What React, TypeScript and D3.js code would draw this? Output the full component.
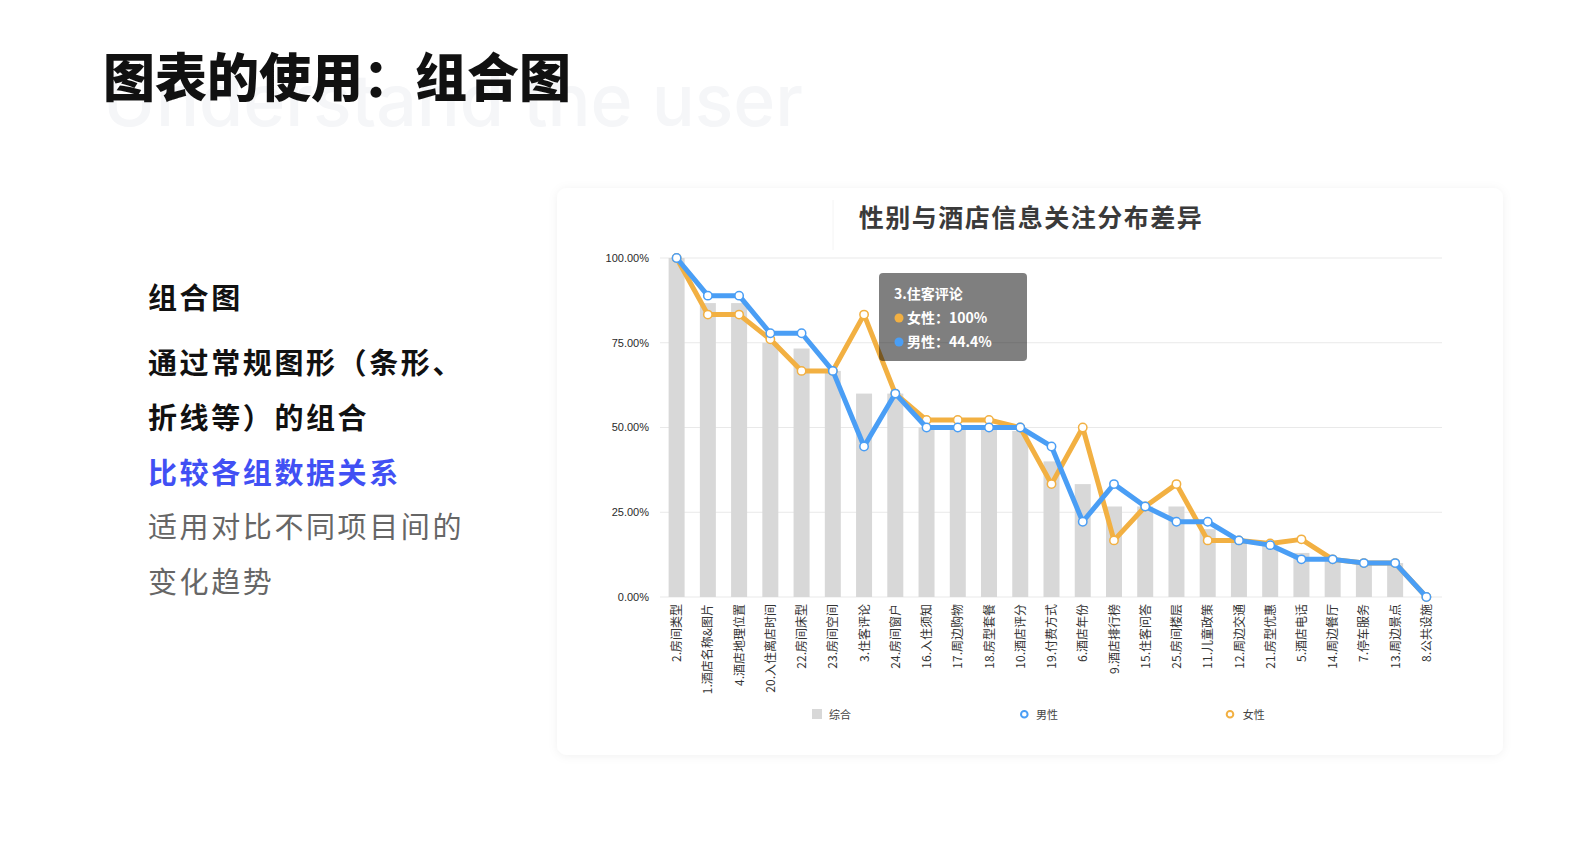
import React, { useEffect } from "react";
import * as d3 from "d3";

const categories = [
  "2.房间类型", "1.酒店名称&图片", "4.酒店地理位置", "20.入住离店时间", "22.房间床型",
  "23.房间空间", "3.住客评论", "24.房间窗户", "16.入住须知", "17.周边购物",
  "18.房型套餐", "10.酒店评分", "19.付费方式", "6.酒店年份", "9.酒店排行榜",
  "15.住客问答", "25.房间楼层", "11.儿童政策", "12.周边交通", "21.房型优惠",
  "5.酒店电话", "14.周边餐厅", "7.停车服务", "13.周边景点", "8.公共设施",
];
const totalValues = [100, 86.7, 86.7, 75, 73.3, 66.7, 60, 60, 50, 50, 50, 49, 40, 33.3, 26.7, 26.7, 26.7, 20, 16.3, 15.3, 13, 11, 10, 10, 0];
const maleValues = [100, 88.9, 88.9, 77.8, 77.8, 66.7, 44.4, 60, 50, 50, 50, 50, 44.4, 22.2, 33.3, 26.7, 22.2, 22.2, 16.7, 15.3, 11.1, 11.1, 10, 10, 0];
const femaleValues = [100, 83.3, 83.3, 76, 66.7, 66.7, 83.3, 60, 52.2, 52.2, 52.2, 50, 33.3, 50, 16.7, 26.7, 33.3, 16.7, 16.7, 15.8, 17, 11.1, 10, 10, 0];
const yTicks = [0, 25, 50, 75, 100];
const legendItems = ["综合", "男性", "女性"];

const pageTitle = "图表的使用：组合图";
const ghostTitle = "Understand the user";
const chartTitle = "性别与酒店信息关注分布差异";
const sideLines = [
  { text: "组合图", color: "#111", weight: 700 },
  { text: "通过常规图形（条形、", color: "#111", weight: 700 },
  { text: "折线等）的组合", color: "#111", weight: 700 },
  { text: "比较各组数据关系", color: "#4150f4", weight: 700 },
  { text: "适用对比不同项目间的", color: "#666", weight: 400 },
  { text: "变化趋势", color: "#666", weight: 400 },
];
const tooltipTitle = "3.住客评论";
const tooltipRows = [
  { label: "女性：100%", color: "#f2b042" },
  { label: "男性：44.4%", color: "#4a9ef5" },
];

const BLUE = "#4a9ef5";
const ORANGE = "#f2b042";
const BAR = "#d8d8d8";
const FONT = '"Noto Sans CJK SC", "Noto Sans", sans-serif';

export default function App() {
  useEffect(() => {
    document.body.style.margin = "0";
  }, []);

  const x = d3.scaleBand<string>().domain(categories).range([661, 1442]).padding(0);
  const y = d3.scaleLinear().domain([0, 100]).range([597, 258]);
  const cx = (c: string) => (x(c) as number) + x.bandwidth() / 2;
  const barW = 16;

  const line = d3
    .line<number>()
    .x((_, i) => cx(categories[i]))
    .y((d) => y(d));

  const sideBaselines = [308.5, 373.5, 429, 483.5, 537.5, 592.5];

  return (
    <svg
      width={1586}
      height={866}
      style={{ position: "absolute", left: 0, top: 0, background: "#fff" }}
      fontFamily={FONT}
    >
      <defs>
        <filter id="cardShadow" x="-5%" y="-5%" width="110%" height="110%">
          <feDropShadow dx="0" dy="1" stdDeviation="5" floodColor="#000" floodOpacity="0.06" />
        </filter>
      </defs>

      {/* ghost text */}
      <text
        x={103}
        y={126}
        fontFamily='Inter, "Open Sans", sans-serif'
        fontSize={72}
        fontWeight={500}
        fill="#f5f6f8"
        textLength={700}
        lengthAdjust="spacingAndGlyphs"
      >
        {ghostTitle}
      </text>
      <text x={103} y={97} fontSize={52} fontWeight={900} fill="#111">
        {pageTitle}
      </text>

      {/* side text */}
      {sideLines.map((l, i) => (
        <text
          key={i}
          x={148}
          y={sideBaselines[i]}
          fontSize={29}
          fontWeight={l.weight}
          fill={l.color}
          letterSpacing={2.6}
        >
          {l.text}
        </text>
      ))}

      {/* card */}
      <rect x={557} y={188} width={946} height={567} rx={10} fill="#fff" filter="url(#cardShadow)" />
      <line x1={833} x2={833} y1={200} y2={250} stroke="#f4f4f4" />

      <text
        x={1031}
        y={227}
        textAnchor="middle"
        fontSize={25}
        fontWeight={700}
        fill="#3a3a3a"
        letterSpacing={1.5}
      >
        {chartTitle}
      </text>

      {/* grid + y axis */}
      {yTicks.map((t) => (
        <g key={t}>
          <line x1={660} x2={1442} y1={y(t)} y2={y(t)} stroke="#e9e9e9" strokeWidth={1} />
          <text
            x={649}
            y={y(t)}
            dy="0.35em"
            textAnchor="end"
            fontSize={11}
            fill="#2a2a2a"
            fontFamily='"Liberation Sans", Arial, sans-serif'
          >
            {t.toFixed(2) + "%"}
          </text>
        </g>
      ))}

      {/* bars */}
      {totalValues.map((v, i) => (
        <rect
          key={i}
          x={cx(categories[i]) - barW / 2}
          y={y(v)}
          width={barW}
          height={y(0) - y(v)}
          fill={BAR}
        />
      ))}

      {/* x labels */}
      {categories.map((c) => (
        <text
          key={c}
          transform={`translate(${cx(c)},604) rotate(-90)`}
          dy="0.38em"
          textAnchor="end"
          fontSize={12}
          fill="#333"
        >
          {c}
        </text>
      ))}

      {/* lines */}
      <path d={line(femaleValues) || ""} fill="none" stroke={ORANGE} strokeWidth={5} strokeLinejoin="round" />
      {femaleValues.map((v, i) => (
        <circle key={"f" + i} cx={cx(categories[i])} cy={y(v)} r={4.2} fill="#fff" stroke={ORANGE} strokeWidth={1.5} />
      ))}
      <path d={line(maleValues) || ""} fill="none" stroke={BLUE} strokeWidth={5} strokeLinejoin="round" />
      {maleValues.map((v, i) => (
        <circle key={"m" + i} cx={cx(categories[i])} cy={y(v)} r={4.2} fill="#fff" stroke={BLUE} strokeWidth={1.5} />
      ))}

      {/* tooltip */}
      <rect x={879} y={273} width={148} height={88} rx={4} fill="rgba(0,0,0,0.5)" />
      <text x={894} y={299} fontSize={14} fontWeight={600} fill="#fff">
        {tooltipTitle}
      </text>
      {tooltipRows.map((r, i) => (
        <g key={i}>
          <circle cx={899} cy={318 + i * 24} r={4.5} fill={r.color} />
          <text x={907} y={323 + i * 24} fontSize={14} fontWeight={600} fill="#fff">
            {r.label}
          </text>
        </g>
      ))}

      {/* legend */}
      <rect x={812} y={709} width={10} height={10} fill={BAR} />
      <text x={829} y={718.5} fontSize={11} fill="#444">
        {legendItems[0]}
      </text>
      <circle cx={1024.3} cy={714.3} r={3.3} fill="#fff" stroke={BLUE} strokeWidth={2} />
      <text x={1036} y={718.5} fontSize={11} fill="#444">
        {legendItems[1]}
      </text>
      <circle cx={1230} cy={714.3} r={3.3} fill="#fff" stroke={ORANGE} strokeWidth={2} />
      <text x={1242.7} y={718.5} fontSize={11} fill="#444">
        {legendItems[2]}
      </text>
    </svg>
  );
}
